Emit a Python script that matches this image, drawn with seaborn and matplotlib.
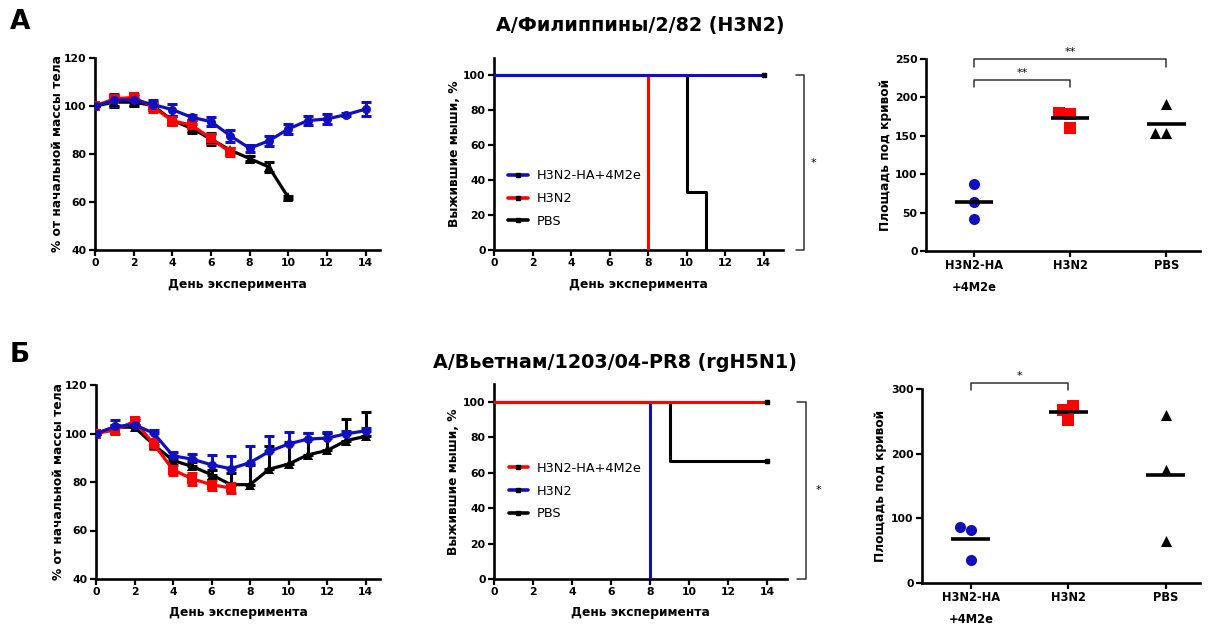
import numpy as np
import pandas as pd
import matplotlib
matplotlib.use("Agg")
import matplotlib.pyplot as plt
import matplotlib.transforms as mtransforms
from matplotlib.lines import Line2D
import seaborn as sns

sns.set_style("ticks")
plt.rcParams['font.family'] = ['DejaVu Sans']
plt.rcParams['font.weight'] = 'bold'
plt.rcParams['axes.labelweight'] = 'bold'
for k in ("text.color", "axes.labelcolor", "xtick.color", "ytick.color",
          "axes.edgecolor"):
    plt.rcParams[k] = "black"

BLUE = "#1010c0"
RED = "#ff0000"
BLACK = "#000000"

# ---------------- data ----------------
title_A = "А/Филиппины/2/82 (H3N2)"
title_B = "А/Вьетнам/1203/04-PR8 (rgH5N1)"
groups = ["H3N2-HA+4M2e", "H3N2", "PBS"]
cat_labels = ["H3N2-HA\n+4M2e", "H3N2", "PBS"]

# Panel A weight
days_A_blue = list(range(0, 15))
wt_A_blue = [100, 102.3, 102.6, 100.6, 98.5, 95.3, 93.5, 87.6, 82.4, 85.5, 90.4, 93.9, 94.6, 96.4, 98.7]
err_A_blue = [0, 2.5, 1.5, 2, 2.5, 1, 2, 2.5, 1.5, 2, 2, 2, 2, 0.5, 3]
days_A_red = list(range(0, 8))
wt_A_red = [100, 103, 103.6, 99.6, 93.9, 92, 86.5, 80.8]
err_A_red = [0, 1.5, 1.5, 2, 2, 2, 2, 1.5]
days_A_black = list(range(0, 11))
wt_A_black = [100, 101.6, 101.6, 100.2, 94, 90.7, 86.2, 81.6, 78.1, 74.6, 61.9]
err_A_black = [0, 2, 1.5, 1, 2, 2, 2.5, 1, 1, 2, 0.5]

# Panel B weight
days_B_blue = list(range(0, 15))
wt_B_blue = [100, 102.9, 103.6, 100.1, 90.8, 89.4, 87.1, 85.5, 88, 92.6, 95.7, 97.7, 98.1, 99.9, 101.1]
err_B_blue = [0, 2.8, 2, 1.5, 1.5, 2, 4, 5.3, 7, 6.5, 5, 2.7, 2.5, 1, 1]
days_B_red = list(range(0, 8))
wt_B_red = [100, 101.5, 105, 95.7, 85, 81.3, 78.9, 77.5]
err_B_red = [0, 1.5, 1.5, 2, 2, 2.5, 2, 2]
days_B_black = list(range(0, 15))
wt_B_black = [100, 102.6, 102.6, 95.3, 88.9, 86.4, 83, 78.9, 78.9, 85.3, 87.4, 91.2, 93, 97.1, 98.8]
err_B_black = [0, 1, 1, 1.5, 1.5, 2, 2, 4.8, 8, 9.6, 9, 8.9, 7.1, 8.9, 9.9]

# Survival (Kaplan-Meier steps)
surv_A = {
    "H3N2-HA+4M2e": ([0, 14], [100, 100]),
    "H3N2": ([0, 8], [100, 0]),
    "PBS": ([0, 10, 11], [100, 33.3, 0]),
}
surv_B = {
    "H3N2-HA+4M2e": ([0, 14], [100, 100]),
    "H3N2": ([0, 8], [100, 0]),
    "PBS": ([0, 9, 14], [100, 66.7, 66.7]),
}

# Area under curve
auc_A = {
    "H3N2-HA+4M2e": [87, 64, 42],
    "H3N2": [180, 178, 160],
    "PBS": [191, 153, 153],
}
auc_B = {
    "H3N2-HA+4M2e": [87, 82, 35],
    "H3N2": [274, 267, 252],
    "PBS": [260, 174, 65],
}

W, H = 1219, 625
fig = plt.figure(figsize=(W / 100, H / 100), dpi=100)


def px_axes(l, r, t, b):
    return fig.add_axes([l / W, 1 - b / H, (r - l) / W, (b - t) / H])


TICK_FS = 7.8
LAB_FS = 8.8
SPINE_W = 1.9


def style_axes(ax):
    sns.despine(ax=ax)
    for s in ("left", "bottom"):
        ax.spines[s].set_linewidth(SPINE_W)
        ax.spines[s].set_color("black")
    ax.tick_params(axis="both", direction="out", length=4, width=1.6,
                   labelsize=TICK_FS, pad=2, colors="black")
    for lab in ax.get_xticklabels() + ax.get_yticklabels():
        lab.set_fontweight("bold")


def weight_panel(ax, series, xlab_y):
    for days, wt, err, color, marker, up_only in series:
        df = pd.DataFrame({"day": days, "w": wt})
        if up_only:
            yerr = [np.zeros(len(err)), err]
        else:
            yerr = err
        ax.errorbar(days, wt, yerr=yerr, fmt="none", ecolor=color,
                    elinewidth=2.2, capsize=3.5, capthick=2.2, zorder=2)
        sns.lineplot(data=df, x="day", y="w", ax=ax, color=color,
                     marker=marker, markersize=6.5, markeredgewidth=0,
                     linewidth=2.3, zorder=3)
    ax.set_xlim(0, 14.75)
    ax.set_ylim(40, 120)
    ax.set_xticks(range(0, 15, 2))
    ax.set_yticks(range(40, 121, 20))
    ax.set_xlabel("День эксперимента", fontsize=LAB_FS, fontweight="bold")
    ax.set_ylabel("% от начальной массы тела", fontsize=LAB_FS, fontweight="bold")
    ax.xaxis.set_label_coords(0.5, xlab_y)
    ax.yaxis.set_label_coords(-0.11, 0.5)
    style_axes(ax)


def survival_panel(ax, surv, colors, order, legend_y, brk, xlab_y):
    for g in order:
        t, s = surv[g]
        df = pd.DataFrame({"t": t, "s": s})
        sns.lineplot(data=df, x="t", y="s", ax=ax, color=colors[g],
                     drawstyle="steps-post", linewidth=2.2, zorder=3)
        if s[-1] > 0:
            ax.plot([t[-1]], [s[-1]], marker="s", markersize=3.5,
                    color=BLACK, zorder=4, clip_on=False)
    ax.set_xlim(0, 15)
    ax.set_ylim(0, 110)
    ax.set_xticks(range(0, 15, 2))
    ax.set_yticks(range(0, 101, 20))
    ax.set_xlabel("День эксперимента", fontsize=LAB_FS, fontweight="bold")
    ax.set_ylabel("Выжившие мыши, %", fontsize=LAB_FS, fontweight="bold")
    ax.xaxis.set_label_coords(0.5, xlab_y)
    ax.yaxis.set_label_coords(-0.115, 0.5)
    handles = [Line2D([0], [0], color=colors[g], lw=2.6, marker="s",
                      markersize=3.2, markerfacecolor=BLACK,
                      markeredgecolor=BLACK) for g in groups]
    ax.legend(handles, groups, loc="upper left",
              bbox_to_anchor=(0.05, legend_y), frameon=False,
              borderaxespad=0, borderpad=0, handlelength=1.5,
              handletextpad=0.7, labelspacing=0.75,
              prop={"size": 9.3, "weight": "normal"})
    # bracket on the right
    x0, x1, xs = brk
    tr = mtransforms.blended_transform_factory(ax.transAxes, ax.transData)
    ax.plot([x0, x1, x1, x0], [100, 100, 0, 0], color="#333333", lw=1.1,
            transform=tr, clip_on=False)
    ax.text(xs, 50, "*", transform=tr, ha="center", va="center",
            fontsize=8, fontweight="normal")
    style_axes(ax)


def auc_panel(ax, auc, colors, markers, ymax, ystep, brackets):
    for i, g in enumerate(groups):
        df = pd.DataFrame({"grp": [g] * len(auc[g]), "v": auc[g]})
        sns.swarmplot(data=df, x="grp", y="v", order=groups, ax=ax,
                      color=colors[g], marker=markers[g], size=8,
                      linewidth=0, zorder=3)
        m = np.mean(auc[g])
        ax.hlines(m, i - 0.2, i + 0.2, color=BLACK, lw=2.6, zorder=4)
    ax.set_xlim(-0.5, 2.35)
    ax.set_ylim(0, ymax)
    ax.set_yticks(range(0, ymax + 1, ystep))
    ax.set_xticks(range(3))
    ax.set_xticklabels(cat_labels, linespacing=1.9)
    ax.set_xlabel("")
    ax.set_ylabel("Площадь под кривой", fontsize=LAB_FS, fontweight="bold")
    ax.yaxis.set_label_coords(-0.125, 0.5)
    ax.tick_params(axis="x", pad=10)
    for (a, b, lo, hi, stars) in brackets:
        ax.plot([a, a, b, b], [lo, hi, hi, lo], color="#333333", lw=1.1,
                clip_on=False)
        ax.text((a + b) / 2, hi + 2.5 * ymax / 250, stars, ha="center",
                va="bottom", fontsize=8, fontweight="normal")
    style_axes(ax)
    for lab in ax.get_xticklabels():
        lab.set_fontsize(8.3)


# ---------------- Panel A ----------------
axA1 = px_axes(95, 380, 58, 250)
weight_panel(axA1, [
    (days_A_black, wt_A_black, err_A_black, BLACK, "^", False),
    (days_A_red, wt_A_red, err_A_red, RED, "s", False),
    (days_A_blue, wt_A_blue, err_A_blue, BLUE, "o", False),
], -0.145)

axA2 = px_axes(494, 783, 58, 250)
survival_panel(axA2, surv_A,
               {"H3N2-HA+4M2e": BLUE, "H3N2": RED, "PBS": BLACK},
               ["PBS", "H3N2", "H3N2-HA+4M2e"], 0.42,
               (1.044, 1.073, 1.105), -0.145)

axA3 = px_axes(926, 1200, 59, 251)
auc_panel(axA3, auc_A,
          {"H3N2-HA+4M2e": BLUE, "H3N2": RED, "PBS": BLACK},
          {"H3N2-HA+4M2e": "o", "H3N2": "s", "PBS": "^"},
          250, 50,
          [(0, 1, 213, 223, "**"), (0, 2, 240, 250, "**")])

# ---------------- Panel B ----------------
axB1 = px_axes(96, 380, 385, 579)
weight_panel(axB1, [
    (days_B_black, wt_B_black, err_B_black, BLACK, "^", True),
    (days_B_red, wt_B_red, err_B_red, RED, "s", False),
    (days_B_blue, wt_B_blue, err_B_blue, BLUE, "o", True),
], -0.14)

axB2 = px_axes(494, 787, 384, 579)
survival_panel(axB2, surv_B,
               {"H3N2-HA+4M2e": RED, "H3N2": BLUE, "PBS": BLACK},
               ["PBS", "H3N2", "H3N2-HA+4M2e"], 0.6,
               (1.035, 1.066, 1.108), -0.14)

axB3 = px_axes(922, 1200, 389, 583)
auc_panel(axB3, auc_B,
          {"H3N2-HA+4M2e": BLUE, "H3N2": RED, "PBS": BLACK},
          {"H3N2-HA+4M2e": "o", "H3N2": "s", "PBS": "^"},
          300, 100,
          [(0, 1, 298, 310, "*")])

# ---------------- titles ----------------
fig.text(640 / W, 1 - 25 / H, title_A, ha="center", va="center",
         fontsize=13.8, fontweight="bold")
fig.text(615 / W, 1 - 362 / H, title_B, ha="center", va="center",
         fontsize=13.8, fontweight="bold")
fig.text(20 / W, 1 - 22 / H, "А", ha="center", va="center",
         fontsize=19, fontweight="bold")
fig.text(20 / W, 1 - 355 / H, "Б", ha="center", va="center",
         fontsize=19, fontweight="bold")

fig.savefig("out.png", dpi=100)
